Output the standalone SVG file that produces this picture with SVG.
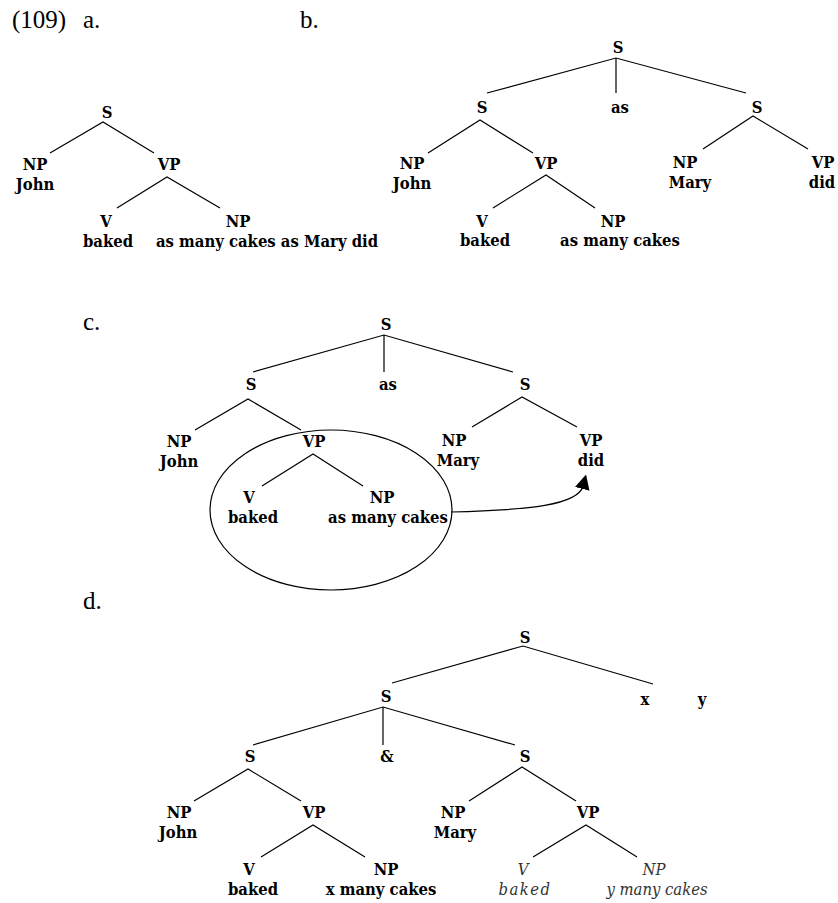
<svg xmlns="http://www.w3.org/2000/svg" width="838" height="903" viewBox="0 0 838 903">
<style>
.h{font-family:"Liberation Serif",serif;font-size:25px;fill:#000}
.t{font-family:"DejaVu Serif Condensed","DejaVu Serif",serif;font-stretch:condensed;font-size:16.5px;font-weight:bold;fill:#000;text-anchor:middle}
.i{font-family:"DejaVu Serif Condensed","DejaVu Serif",serif;font-stretch:condensed;font-size:16.5px;font-style:italic;fill:#333;text-anchor:middle}
.l{stroke:#000;stroke-width:1.2;fill:none}
</style>
<defs>
<marker id="ah" viewBox="0 0 10 10" refX="2" refY="5" markerWidth="15" markerHeight="15" markerUnits="userSpaceOnUse" orient="auto">
<path d="M0,0 L10,5 L0,10 z" fill="#000"/>
</marker>
</defs>
<rect width="838" height="903" fill="#fff"/>
<g id="headers">
<text class="h" x="12" y="28">(109)</text>
<text class="h" x="83" y="28">a.</text>
<text class="h" x="300" y="28">b.</text>
<text class="h" x="83" y="330">c.</text>
<text class="h" x="83" y="609">d.</text>
</g>
<g id="connectors">
<!-- a -->
<path class="l" d="M50,153 L103,122 L154,153"/>
<path class="l" d="M117,208 L167,177 L220,208"/>
<!-- b -->
<path class="l" d="M487,93 L616,58 L746,93 M616,58 L616,93"/>
<path class="l" d="M428,153 L480,120 L533,153"/>
<path class="l" d="M493,208 L546,175 L595,208"/>
<path class="l" d="M703,149 L753,116 L808,149"/>
<!-- c -->
<path class="l" d="M253,372 L384,335 L513,372 M384,335 L384,372"/>
<path class="l" d="M195,430 L248,399 L301,430"/>
<path class="l" d="M262,486 L313,454 L363,486"/>
<path class="l" d="M472,427 L522,397 L577,427"/>
<ellipse class="l" cx="331" cy="510" rx="121" ry="80"/>
<path class="l" d="M451,512 C530,510 578,505 583,486" marker-end="url(#ah)"/>
<!-- d -->
<path class="l" d="M392,683 L523,646 L653,684"/>
<path class="l" d="M253,745 L383,707 L515,745 M383,707 L383,745"/>
<path class="l" d="M194,801 L248,769 L301,801"/>
<path class="l" d="M261,857 L313,825 L365,857"/>
<path class="l" d="M469,801 L522,767 L576,801"/>
<path class="l" d="M533,857 L586,825 L637,857"/>
</g>
<g id="tree-a">
<text class="t" x="107" y="118">S</text>
<text class="t" x="35" y="170">NP</text>
<text class="t" x="35" y="190">John</text>
<text class="t" x="169" y="170">VP</text>
<text class="t" x="106" y="227">V</text>
<text class="t" x="108" y="247">baked</text>
<text class="t" x="238" y="227">NP</text>
<text class="t" x="267" y="247">as many cakes as Mary did</text>
</g>
<g id="tree-b">
<text class="t" x="618" y="53">S</text>
<text class="t" x="482" y="113">S</text>
<text class="t" x="620" y="113">as</text>
<text class="t" x="757" y="113">S</text>
<text class="t" x="412" y="169">NP</text>
<text class="t" x="412" y="189">John</text>
<text class="t" x="546" y="169">VP</text>
<text class="t" x="482" y="227">V</text>
<text class="t" x="485" y="246">baked</text>
<text class="t" x="613" y="227">NP</text>
<text class="t" x="620" y="246">as many cakes</text>
<text class="t" x="685" y="168">NP</text>
<text class="t" x="690" y="188">Mary</text>
<text class="t" x="823" y="168">VP</text>
<text class="t" x="822" y="188">did</text>
</g>
<g id="tree-c">
<text class="t" x="386" y="330">S</text>
<text class="t" x="251" y="390">S</text>
<text class="t" x="388" y="390">as</text>
<text class="t" x="525" y="390">S</text>
<text class="t" x="179" y="447">NP</text>
<text class="t" x="179" y="467">John</text>
<text class="t" x="314" y="447">VP</text>
<text class="t" x="249" y="503">V</text>
<text class="t" x="253" y="523">baked</text>
<text class="t" x="382" y="503">NP</text>
<text class="t" x="388" y="523">as many cakes</text>
<text class="t" x="454" y="446">NP</text>
<text class="t" x="458" y="466">Mary</text>
<text class="t" x="591" y="446">VP</text>
<text class="t" x="591" y="466">did</text>
</g>
<g id="tree-d">
<text class="t" x="525" y="643">S</text>
<text class="t" x="386" y="702">S</text>
<text class="t" x="645" y="705">x</text>
<text class="t" x="702" y="705">y</text>
<text class="t" x="250" y="762">S</text>
<text class="t" x="387" y="762">&amp;</text>
<text class="t" x="525" y="762">S</text>
<text class="t" x="179" y="818">NP</text>
<text class="t" x="178" y="838">John</text>
<text class="t" x="314" y="818">VP</text>
<text class="t" x="249" y="875">V</text>
<text class="t" x="253" y="895">baked</text>
<text class="t" x="386" y="875">NP</text>
<text class="t" x="381" y="895">x many cakes</text>
<text class="t" x="453" y="818">NP</text>
<text class="t" x="455" y="838">Mary</text>
<text class="t" x="588" y="818">VP</text>
<text class="i" x="523" y="875">V</text>
<text class="i" x="525" y="895" letter-spacing="1.5">baked</text>
<text class="i" x="654" y="875">NP</text>
<text class="i" x="657" y="895">y many cakes</text>
</g>
</svg>
